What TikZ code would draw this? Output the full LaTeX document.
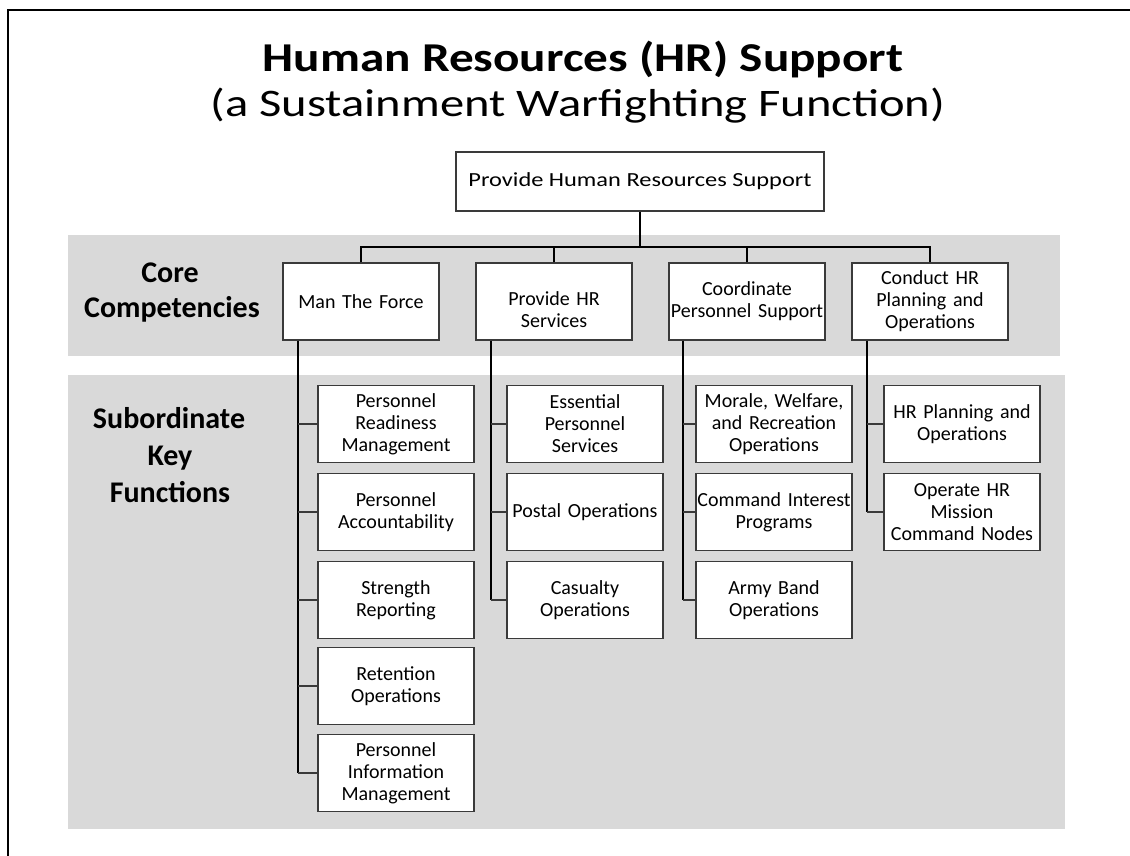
\documentclass[tikz,border=0pt]{standalone}
\usepackage{fontspec}
\setmainfont{Carlito}
\usepackage{graphicx}
\usetikzlibrary{calc}
\definecolor{bandgray}{HTML}{D9D9D9}
\definecolor{boxline}{HTML}{3A3A3A}
\newcommand{\hsq}[2]{\scalebox{#1}[1]{#2}}
\tikzset{
  box/.style={draw=boxline, line width=1.3pt, fill=white, minimum width=156pt,
    minimum height=77pt, inner sep=1pt, text width=154pt, align=center,
    font=\fontsize{20}{22}\selectfont},
  topbox/.style={draw=boxline, line width=1.3pt, fill=white, minimum width=368pt,
    minimum height=59pt, inner sep=1pt, align=center,
    font=\fontsize{20}{22}\selectfont},
  sidelab/.style={anchor=base, inner sep=0pt, font=\fontsize{30}{36}\selectfont\bfseries},
  trunk/.style={line width=1.9pt, black},
  stub/.style={line width=1.3pt, boxline},
  busline/.style={line width=1.4pt, black},
}
\begin{document}
\begin{tikzpicture}[x=1pt,y=-1pt]
\useasboundingbox (0,0) rectangle (1130,856);
% frame
\draw[line width=2.6pt] (8,856) -- (8,10) -- (1130,10);
% bands
\fill[bandgray] (68,235) rectangle (1060,356);
\fill[bandgray] (68,375) rectangle (1065,829);
% titles
\node[anchor=base, inner sep=0pt, font=\fontsize{41}{48}\selectfont\bfseries] (title) at (583,72) {\hsq{1.2}{Human Resources (HR) Support}};
\node[anchor=base, inner sep=0pt, font=\fontsize{39}{46}\selectfont] (subtitle) at (578,117) {\hsq{1.245}{(a Sustainment Warfighting Function)}};
% side labels
\node[sidelab] (core1) at (170,282) {Core};
\node[sidelab] (core2) at (172,317) {Competencies};
\node[sidelab] (sub1) at (169,428) {Subordinate};
\node[sidelab] (sub2) at (170,465) {Key};
\node[sidelab] (sub3) at (170,502) {Functions};
% top box
\node[topbox] (top) at (640,181.5) {\hsq{1.22}{Provide Human Resources Support}};
% core boxes
\node[box] (c1) at (361,301.5) {Man The Force};
\node[box] (c2) at (554,301.5) {\rule{0pt}{30pt}Provide HR\\Services};
\node[box] (c3) at (747,301.5) {Coordinate\\Personnel Support};
\node[box] (c4) at (930,301.5) {Conduct HR\\Planning and\\Operations};
% subordinate boxes
\node[box] (s11) at (396,424) {Personnel\\Readiness\\Management};
\node[box] (s12) at (396,512) {Personnel\\Accountability};
\node[box] (s13) at (396,600) {Strength\\Reporting};
\node[box] (s14) at (396,686) {Retention\\Operations};
\node[box] (s15) at (396,773) {Personnel\\Information\\Management};
\node[box] (s21) at (585,424) {Essential\\Personnel\\Services};
\node[box] (s22) at (585,512) {Postal Operations};
\node[box] (s23) at (585,600) {Casualty\\Operations};
\node[box] (s31) at (774,424) {Morale, Welfare,\\and Recreation\\Operations};
\node[box] (s32) at (774,512) {Command Interest\\Programs};
\node[box] (s33) at (774,600) {Army Band\\Operations};
\node[box] (s41) at (962,424) {HR Planning and\\Operations};
\node[box] (s42) at (962,512) {Operate HR\\Mission\\Command Nodes};
% top bus
\coordinate (bus) at (640,247);
\draw[busline] (top.south) -- (bus);
\foreach \c in {c1,c2,c3,c4} \draw[busline] (\c.north) |- (bus);
% trunks
\coordinate (t1) at ($(c1.south west)+(16,0)$);
\coordinate (t2) at ($(c2.south west)+(16,0)$);
\coordinate (t3) at ($(c3.south west)+(15,0)$);
\coordinate (t4) at ($(c4.south west)+(16,0)$);
\draw[trunk] (t1) -- (s15.west -| t1);
\draw[trunk] (t2) -- (s23.west -| t2);
\draw[trunk] (t3) -- (s33.west -| t3);
\draw[trunk] (t4) -- (s42.west -| t4);
\foreach \s in {s11,s12,s13,s14,s15} \draw[stub] (\s.west) -- (\s.west -| t1);
\foreach \s in {s21,s22,s23} \draw[stub] (\s.west) -- (\s.west -| t2);
\foreach \s in {s31,s32,s33} \draw[stub] (\s.west) -- (\s.west -| t3);
\foreach \s in {s41,s42} \draw[stub] (\s.west) -- (\s.west -| t4);
\end{tikzpicture}
\end{document}
